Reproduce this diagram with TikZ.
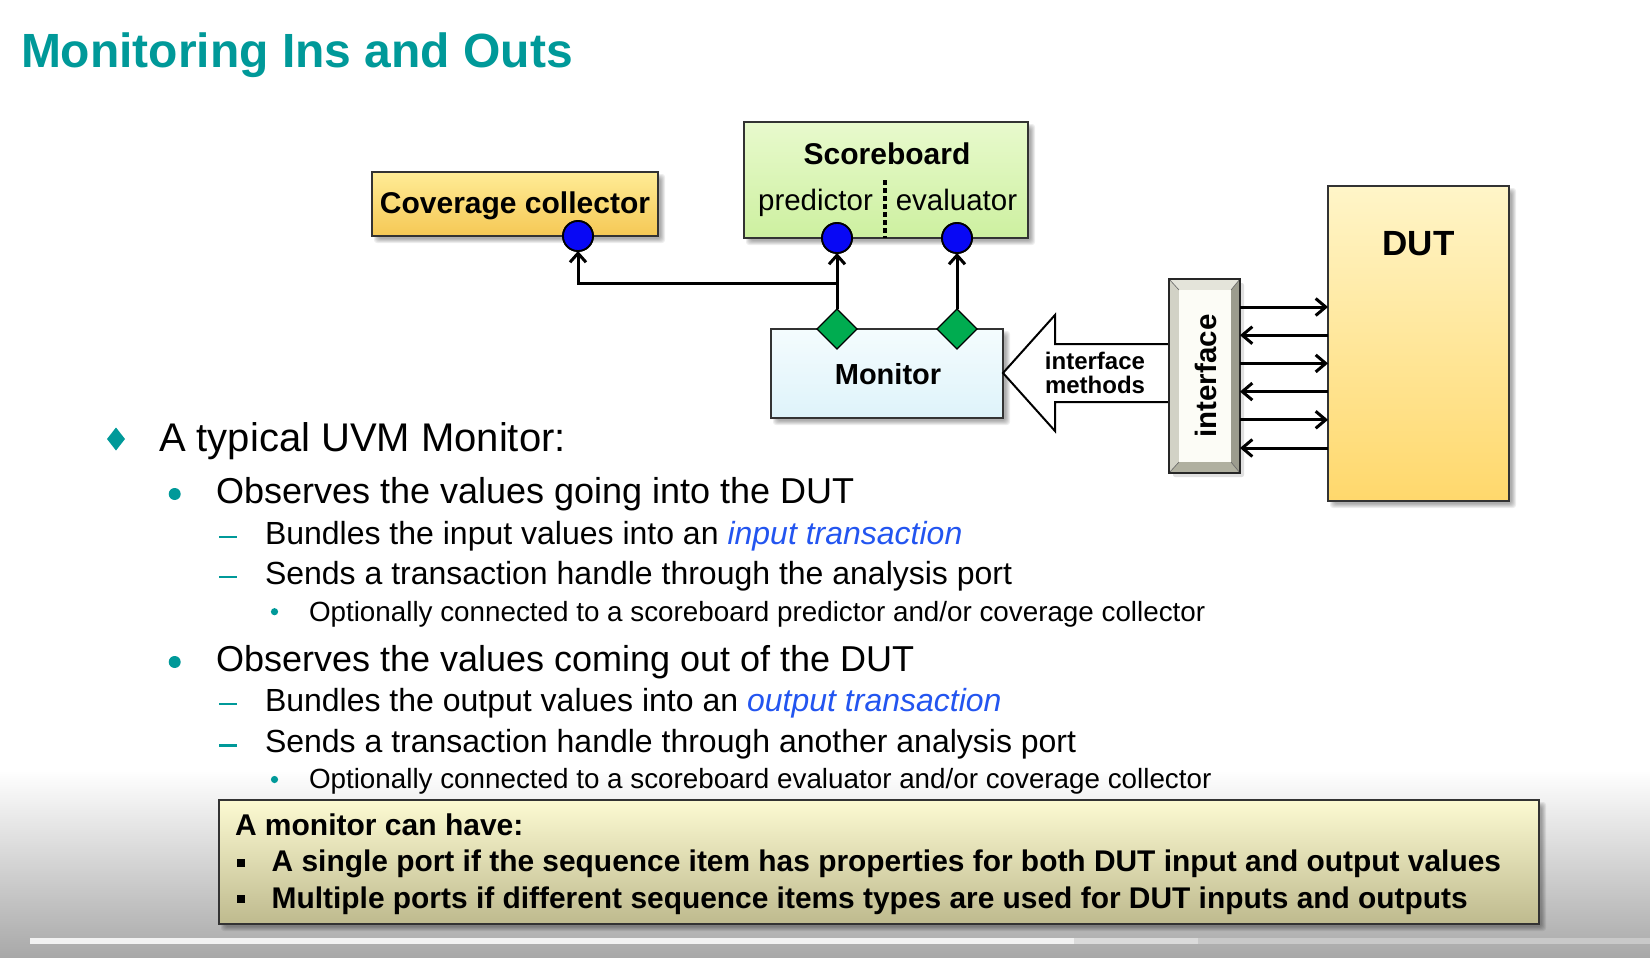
\documentclass[tikz,border=0pt]{standalone}
\usepackage{fontspec}
\setmainfont{Liberation Sans}
\usetikzlibrary{arrows.meta,shapes.geometric,calc}

\definecolor{headteal}{RGB}{0,153,153}
\definecolor{linkblue}{RGB}{35,85,240}
\definecolor{portblue}{RGB}{8,8,245}
\definecolor{expgreen}{RGB}{0,172,80}
\definecolor{covtop}{RGB}{255,236,150}
\definecolor{covbot}{RGB}{245,200,85}
\definecolor{sbtop}{RGB}{232,250,205}
\definecolor{sbbot}{RGB}{205,240,160}
\definecolor{montop}{RGB}{244,252,254}
\definecolor{monbot}{RGB}{222,243,250}
\definecolor{duttop}{RGB}{255,245,200}
\definecolor{dutbot}{RGB}{255,216,108}
\definecolor{notetop}{RGB}{252,250,210}
\definecolor{notebot}{RGB}{190,186,142}
\definecolor{bevtop}{RGB}{228,228,218}
\definecolor{bevleft}{RGB}{210,210,198}
\definecolor{bevright}{RGB}{156,156,142}
\definecolor{bevbot}{RGB}{176,176,160}
\definecolor{bevface}{RGB}{252,252,246}
\definecolor{bggray}{RGB}{168,168,168}

\newcommand{\szf}[1]{\fontsize{#1pt}{#1pt}\selectfont}
% soft drop shadow behind a rectangle given by its corners
\newcommand{\softshadow}[4]{%
  \foreach \k in {0,...,4}{%
    \fill[black, opacity=0.07, rounded corners=3pt]
      (#1+6-\k, #2+6-\k) rectangle (#3+3+\k, #4+3+\k);
  }}

\tikzset{
  box/.style={draw=black!80, line width=2pt, inner sep=0pt, outer sep=0pt},
  port/.style={circle, draw=black, line width=1.8pt, fill=portblue,
    minimum size=30pt, inner sep=0pt, outer sep=0pt},
  export/.style={diamond, draw=black, line width=1.2pt, fill=expgreen,
    minimum size=40pt, inner sep=0pt, outer sep=0pt},
  link/.style={line width=3pt, -{Straight Barb[length=9pt,width=16pt]}},
  sig/.style={line width=3pt, -{Straight Barb[length=10pt,width=17pt]}},
  txt/.style={inner sep=0pt, outer sep=0pt},
}

\begin{document}
\begin{tikzpicture}[x=1pt, y=-1pt]
\useasboundingbox (0,0) rectangle (1650,958);
\fill[white] (0,0) rectangle (1650,958);
% darkening band along the lower edge and the progress bar
\shade[top color=white, bottom color=bggray] (0,770) rectangle (1650,958);
\fill[black!5] (30,938) rectangle (1074,944);
\fill[black!14] (1074,938) rectangle (1198,944);
\fill[black!21] (1198,938) rectangle (1650,944);

% title
\node[txt, anchor=base west, font=\bfseries\szf{48}, text=headteal] (title) at (21,67) {Monitoring Ins and Outs};

% coverage collector
\softshadow{372}{172}{658}{236}
\node[box, top color=covtop, bottom color=covbot, minimum width=286pt, minimum height=64pt] (cov) at (515,204) {};
\node[txt, anchor=base, font=\bfseries\szf{30}] (covtxt) at (515,213) {Coverage collector};

% scoreboard
\softshadow{744}{122}{1028}{238}
\node[box, top color=sbtop, bottom color=sbbot, minimum width=284pt, minimum height=116pt] (sb) at (886,180) {};
\node[txt, anchor=base, font=\bfseries\szf{30}] (sbtitle) at (887,164) {Scoreboard};
\node[txt, anchor=base, font=\szf{29.5}] (pred) at (815.5,210) {predictor};
\node[txt, anchor=base, font=\szf{29.5}] (eval) at (956.5,210) {evaluator};
\coordinate (divtop) at (884.7,180);
\draw[line width=4pt, dash pattern=on 4.5pt off 3.5pt] (divtop) -- (divtop |- sb.south);

% monitor
\softshadow{771}{329}{1003}{418}
\node[box, top color=montop, bottom color=monbot, minimum width=232pt, minimum height=89pt] (mon) at (887,373.5) {};
\node[txt, font=\bfseries\szf{29}] (montxt) at (888,374) {Monitor};

% analysis ports and exports
\node[port] (covp) at (578,236) {};
\node[port] (predp) at (837,238) {};
\node[port] (evalp) at (957,238) {};
\node[export] (mex1) at (837,329) {};
\node[export] (mex2) at (957,329) {};
\coordinate (tap) at (837,283);
\draw[link] (mex1.north) -- (predp.south);
\draw[link, line join=miter] (tap) -| (covp.south);
\draw[link] (mex2.north) -- (evalp.south);
\node[port] at (covp) {};
\node[port] at (predp) {};
\node[port] at (evalp) {};

% interface methods arrow
\draw[line width=2pt, fill=white, line join=miter]
  (1172,344) -- (1055,344) -- (1055,315) -- (1003,373) -- (1055,431) -- (1055,402) -- (1172,402);
\node[txt, align=center, font=\bfseries\szf{24}, text depth=0pt] (imeth) at (1095,373)
  {\fontsize{24pt}{23pt}\selectfont interface\\methods};

% interface block with bevelled edges
\path[fill=black, opacity=0.12, rounded corners=2pt] (1173,283) rectangle (1244,477);
\node[txt, minimum width=71pt, minimum height=194pt] (intf) at (1204.5,376) {};
\coordinate (oNW) at (intf.north west);
\coordinate (oNE) at (intf.north east);
\coordinate (oSE) at (intf.south east);
\coordinate (oSW) at (intf.south west);
\coordinate (iNW) at ($(oNW)+(10,11)$);
\coordinate (iNE) at ($(oNE)+(-9,11)$);
\coordinate (iSE) at ($(oSE)+(-9,-11)$);
\coordinate (iSW) at ($(oSW)+(10,-11)$);
\fill[bevtop] (oNW) -- (oNE) -- (iNE) -- (iNW) -- cycle;
\fill[bevleft] (oNW) -- (iNW) -- (iSW) -- (oSW) -- cycle;
\fill[bevright] (oNE) -- (oSE) -- (iSE) -- (iNE) -- cycle;
\fill[bevbot] (oSW) -- (iSW) -- (iSE) -- (oSE) -- cycle;
\fill[bevface] (iNW) rectangle (iSE);
\draw[black!60, line width=0.6pt] (oNW) -- (iNW) (oNE) -- (iNE) (oSE) -- (iSE) (oSW) -- (iSW);
\draw[black!85, line width=2pt] (oNW) rectangle (oSE);
\node[txt, rotate=90, font=\bfseries\szf{29.5}] (intftxt) at (1206,376) {interface};

% DUT
\softshadow{1328}{186}{1509}{501}
\node[box, top color=duttop, bottom color=dutbot, minimum width=181pt, minimum height=315pt] (dut) at (1418.5,343.5) {};
\node[txt, anchor=base, font=\bfseries\szf{35}] (duttxt) at (1418.5,255) {DUT};

% pin-level signals between interface and DUT
\foreach \yy in {307,363.4,419.8}{
  \coordinate (sy) at (0,\yy);
  \draw[sig] (intf.east |- sy) -- (dut.west |- sy);
}
\foreach \yy in {335.2,391.6,448}{
  \coordinate (sy) at (0,\yy);
  \draw[sig] (dut.west |- sy) -- (intf.east |- sy);
}

% bullet list
\fill[headteal] (107,439) -- (116,427.5) -- (125,439) -- (116,450.5) -- cycle;
\node[txt, anchor=base west, font=\szf{40}] (l1) at (159,451) {A typical UVM Monitor:};

\fill[headteal] (174.7,494) circle (6);
\node[txt, anchor=base west, font=\szf{36}] (l2a) at (216,503) {Observes the values going into the DUT};
\fill[headteal] (219,535.5) rectangle (237,538);
\node[txt, anchor=base west, font=\szf{32}] (l3a) at (265,544) {Bundles the input values into an \textcolor{linkblue}{\itshape input transaction}};
\fill[headteal] (219,575.5) rectangle (237,578);
\node[txt, anchor=base west, font=\szf{32}] (l3b) at (265,584) {Sends a transaction handle through the analysis port};
\fill[headteal] (274.5,611.7) circle (3.6);
\node[txt, anchor=base west, font=\szf{27.8}] (l4a) at (309,621) {Optionally connected to a scoreboard predictor and/or coverage collector};

\fill[headteal] (174.7,662) circle (6);
\node[txt, anchor=base west, font=\szf{36}] (l2b) at (216,671.5) {Observes the values coming out of the DUT};
\fill[headteal] (219,702.5) rectangle (237,705);
\node[txt, anchor=base west, font=\szf{32}] (l3c) at (265,711) {Bundles the output values into an \textcolor{linkblue}{\itshape output transaction}};
\fill[headteal] (219,744) rectangle (237,746.5);
\node[txt, anchor=base west, font=\szf{32}] (l3d) at (265,752.5) {Sends a transaction handle through another analysis port};
\fill[headteal] (274.5,779.5) circle (3.6);
\node[txt, anchor=base west, font=\szf{27.8}] (l4b) at (309,788.5) {Optionally connected to a scoreboard evaluator and/or coverage collector};

% note box
\softshadow{219}{800}{1539}{924}
\node[box, top color=notetop, bottom color=notebot, minimum width=1320pt, minimum height=124pt] (note) at (879,862) {};
\node[txt, anchor=base west, font=\bfseries\szf{30}] (nhead) at (235,835) {A monitor can have:};
\fill (237,859) rectangle (245,867);
\node[txt, anchor=base west, font=\bfseries\szf{29.9}] (nitem1) at (271.7,871.7) {A single port if the sequence item has properties for both DUT input and output values};
\fill (237,895) rectangle (245,903);
\node[txt, anchor=base west, font=\bfseries\szf{29.9}] (nitem2) at (271.7,908.3) {Multiple ports if different sequence items types are used for DUT inputs and outputs};
\end{tikzpicture}
\end{document}
